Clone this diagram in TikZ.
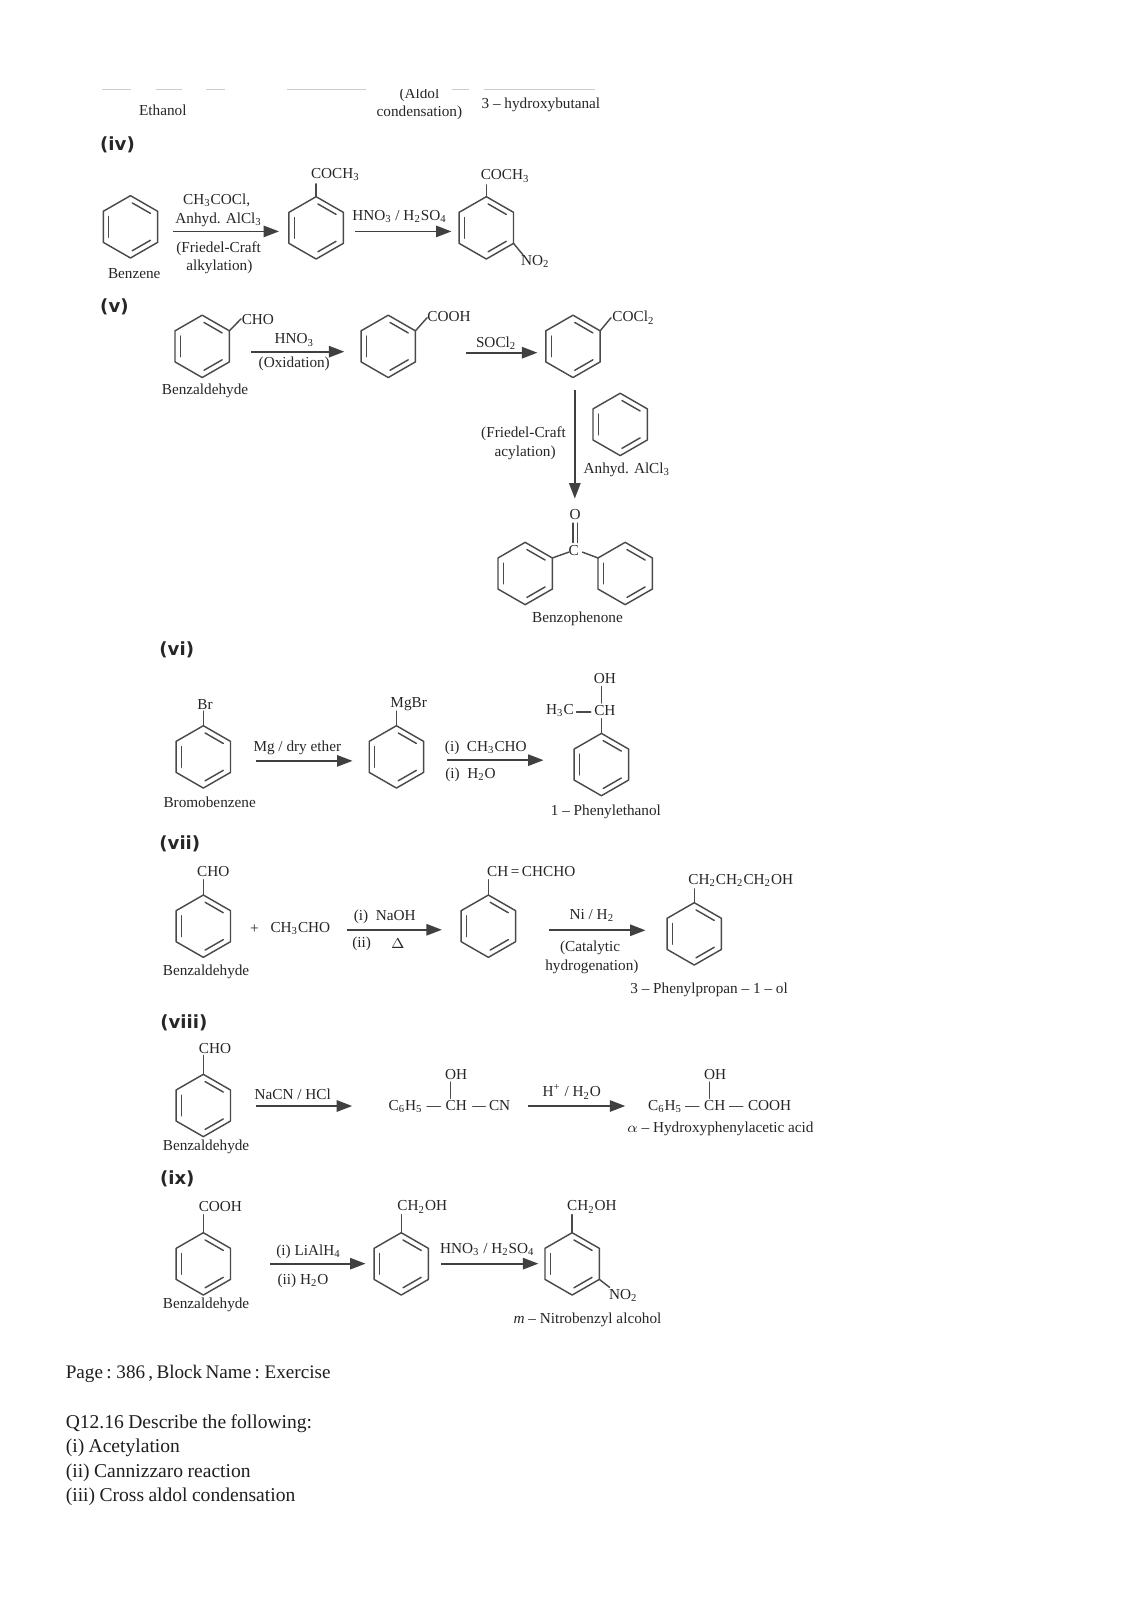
\documentclass[tikz,border=0pt]{standalone}
\usepackage{fontspec}
\setmainfont{Liberation Serif}
\newfontfamily\lblfont{DejaVu Sans}
\newfontfamily\bodyfont[WordSpace=0.9]{Liberation Serif}
\usetikzlibrary{calc,arrows.meta}
\definecolor{ink}{HTML}{262626}
\definecolor{bondc}{HTML}{4A4A4A}
\newcommand\lo[1]{\textsubscript{#1}}
\tikzset{
  chem/.style={inner sep=0pt,font=\fontsize{7.4}{9}\selectfont,text=ink,anchor=center},
  partlbl/.style={inner sep=0pt,font=\lblfont\bfseries\fontsize{8.8}{10}\selectfont,text=black!85,anchor=center},
  bodytxt/.style={inner sep=0pt,font=\bodyfont\fontsize{9.5}{11}\selectfont,text=black!88,anchor=west},
  bond/.style={draw=bondc,line width=0.7pt,line cap=round},
  rxnarrow/.style={draw=black!75,line width=0.85pt,-{Triangle[length=7.5pt,width=5.5pt]}},
  faint/.style={draw=black!20,line width=0.5pt}
}
% ring: name, x, y
\newcommand\ringat[3]{%
  \coordinate (#1-c) at (#2,#3);
  \coordinate (#1-1) at (#2,#3-30.5);
  \coordinate (#1-2) at (#2+26.6,#3-15.2);
  \coordinate (#1-3) at (#2+26.6,#3+15.2);
  \coordinate (#1-4) at (#2,#3+30.5);
  \coordinate (#1-5) at (#2-26.6,#3+15.2);
  \coordinate (#1-6) at (#2-26.6,#3-15.2);
  \draw[bond,line join=round] (#1-1)--(#1-2)--(#1-3)--(#1-4)--(#1-5)--(#1-6)--cycle;
  \draw[bond,shorten >=1pt,shorten <=1pt] ($(#1-c)!0.8!(#1-1)$)--($(#1-c)!0.8!(#1-2)$);
  \draw[bond,shorten >=1pt,shorten <=1pt] ($(#1-c)!0.8!(#1-3)$)--($(#1-c)!0.8!(#1-4)$);
  \draw[bond,shorten >=1pt,shorten <=1pt] ($(#1-c)!0.8!(#1-5)$)--($(#1-c)!0.8!(#1-6)$);
}
% text: name, x, y, text
\newcommand\tx[4]{\node[chem] (#1) at (#2,#3) {#4};}
% reaction arrow: name, x1, x2, y
\newcommand\rxn[4]{\coordinate (#1-a) at (#2,#4); \coordinate (#1-b) at (#3,#4); \draw[rxnarrow] (#1-a)--(#1-b);}
% bond from a named point to a new coordinate
\newcommand\bto[4]{\coordinate (#2) at (#3,#4); \draw[bond] (#1)--(#2);}
% free bond: name, x1, y1, x2, y2
\newcommand\fb[5]{\coordinate (#1-a) at (#2,#3); \coordinate (#1-b) at (#4,#5); \draw[bond] (#1-a)--(#1-b);}
\begin{document}
\begin{tikzpicture}[x=0.496pt,y=-0.496pt]
\useasboundingbox (0,0) rectangle (1109,1566);
\fill[white] (0,0) rectangle (1109,1566);
% top fragment
\foreach \a/\b in {100/128,153/178,202/220,281/358,442/459,474/582}{\draw[faint] (\a,88)--(\b,88);}
\begin{scope}
\clip (350,88) rectangle (480,125);
\tx{aldol}{410.5}{93}{(Aldol}
\end{scope}
\tx{ethanol}{159.4}{107.7}{Ethanol}
\tx{conden}{410.5}{110.9}{condensation)}
\tx{hbut}{529.4}{102.8}{3 -- hydroxybutanal}
% (iv)
\node[partlbl] (liv) at (115,142) {(iv)};
\ringat{a}{127.7}{222}
\ringat{b}{309.4}{223}
\ringat{c}{476}{223}
\tx{bA}{131.4}{268.2}{Benzene}
\tx{acl}{212}{196.5}{CH\lo{3}COCl,}
\tx{anh}{214}{215.5}{Anhyd. AlCl\lo{3}}
\tx{fc}{214}{243}{(Friedel-Craft}
\tx{alk}{214.7}{261}{alkylation)}
\rxn{r1}{169.2}{273.1}{226.5}
\tx{cob}{328.3}{170.7}{COCH\lo{3}}
\bto{b-1}{bt}{309.4}{180}
\tx{nit1}{391}{211.5}{HNO\lo{3} / H\lo{2}SO\lo{4}}
\rxn{r2}{347.5}{441.9}{226.5}
\tx{coc}{494.4}{172.3}{COCH\lo{3}}
\bto{c-1}{ct}{476}{181}
\bto{c-3}{cn}{512}{249.6}
\tx{no1}{524}{256}{NO\lo{2}}
% (v)
\node[partlbl] (lv) at (112,300) {(v)};
\ringat{d}{197.9}{339}
\ringat{e}{380}{339}
\ringat{f}{560.8}{339}
\bto{d-2}{dt}{236}{312}
\tx{cho1}{252.4}{312.6}{CHO}
\tx{bz1}{200.7}{382.5}{Benzaldehyde}
\tx{hno}{288}{332.8}{HNO\lo{3}}
\tx{oxi}{288}{355.7}{(Oxidation)}
\rxn{r3}{246.1}{337}{344.2}
\bto{e-2}{et}{418}{311}
\tx{cooh1}{439.5}{310}{COOH}
\tx{soc}{485.6}{335.5}{SOCl\lo{2}}
\rxn{r4}{456}{526}{345.2}
\bto{f-2}{ft}{598}{311}
\tx{cocl}{620}{311}{COCl\lo{2}}
\coordinate (va) at (562.6,381.9); \coordinate (vb) at (562.6,488);
\draw[rxnarrow] (va)--(vb);
\tx{fc2}{512.4}{425}{(Friedel-Craft}
\tx{acy}{514}{443}{acylation)}
\ringat{g}{607}{415.4}
\tx{anh2}{613.5}{459.5}{Anhyd. AlCl\lo{3}}
\tx{ox}{563}{504}{O}
\tx{cc}{561.5}{538.5}{C}
\fb{o1}{561}{512}{561}{531}
\fb{o2}{565}{512}{565}{531}
\ringat{h}{514}{561.3}
\ringat{i}{611.9}{561.3}
\bto{h-2}{hc}{556.7}{540.4}
\bto{i-6}{ic}{570.1}{540.4}
\tx{bzp}{565.2}{605.4}{Benzophenone}
% (vi)
\node[partlbl] (lvi) at (173,636.4) {(vi)};
\ringat{j}{199}{740.8}
\bto{j-1}{jt}{199}{696}
\tx{br}{200.7}{689.2}{Br}
\tx{bbz}{205.2}{785.5}{Bromobenzene}
\tx{mg}{291}{731.6}{Mg / dry ether}
\rxn{r5}{250.7}{345}{744.7}
\ringat{k}{388}{740.8}
\bto{k-1}{kt}{388}{696}
\tx{mgbr}{400}{689.2}{MgBr}
\tx{ci}{475.5}{731.6}{(i)\ \ CH\lo{3}CHO}
\tx{cii}{460.5}{758}{(i)\ \ H\lo{2}O}
\rxn{r6}{437.7}{532}{744}
\ringat{l}{588.6}{748.3}
\tx{ch1}{592}{695.8}{CH}
\tx{h3c}{548}{695.8}{H\lo{3}C}
\tx{oh1}{592}{664}{OH}
\bto{l-1}{lt}{588.6}{703.4}
\fb{la}{564.3}{697}{578.2}{697}
\fb{lb}{588.6}{672}{588.6}{688}
\tx{phe}{593}{794.6}{1 -- Phenylethanol}
% (vii)
\node[partlbl] (lvii) at (176,825.6) {(vii)};
\ringat{m}{199}{906.5}
\tx{cho2}{208.8}{853.4}{CHO}
\bto{m-1}{mt}{199}{861}
\tx{bz2}{201.7}{951.3}{Benzaldehyde}
\tx{pl}{248.9}{909.1}{+}
\tx{acet}{294}{909.1}{CH\lo{3}CHO}
\tx{naoh}{376.6}{897.4}{(i)\ \ NaOH}
\tx{ii1}{353.9}{923.6}{(ii)}
\tx{del}{389.5}{923.6}{$\Delta$}
\rxn{r7}{339.2}{432.5}{910}
\ringat{n}{478}{906.5}
\tx{chch}{519.9}{853.4}{CH\,\raisebox{0.4pt}{=}\,CHCHO}
\bto{n-1}{nt}{478}{861}
\tx{ni}{579.3}{896}{Ni / H\lo{2}}
\tx{cat}{577.6}{927.4}{(Catalytic}
\tx{hyd}{579.3}{946.3}{hydrogenation)}
\rxn{r8}{537.4}{631.8}{910.5}
\ringat{o}{679.5}{914}
\tx{ppo}{725}{862}{CH\lo{2}CH\lo{2}CH\lo{2}OH}
\bto{o-1}{ot}{679.5}{870}
\tx{pp}{694}{969}{3 -- Phenylpropan -- 1 -- ol}
% (viii)
\node[partlbl] (lviii) at (180,1001) {(viii)};
\ringat{p}{199}{1082}
\tx{cho3}{210.5}{1026}{CHO}
\bto{p-1}{pt}{199}{1033}
\tx{bz3}{201.7}{1122.6}{Benzaldehyde}
\tx{nacn}{286.5}{1071}{NaCN / HCl}
\rxn{r9}{250.7}{344.7}{1082.5}
\tx{c6a}{397}{1083}{C\lo{6}H\lo{5}}
\tx{cha}{446.5}{1082.5}{CH}
\tx{cna}{489}{1082.5}{CN}
\tx{oha}{446.5}{1051.8}{OH}
\fb{q1}{418}{1083}{431}{1083}
\fb{q2}{462.7}{1083}{475}{1083}
\fb{q3}{440.8}{1059}{440.8}{1075}
\tx{hp}{559.7}{1068.7}{H\textsuperscript{+} / H\lo{2}O}
\rxn{r10}{517}{612}{1082.5}
\tx{c6b}{651}{1083}{C\lo{6}H\lo{5}}
\tx{chb}{699.5}{1082.5}{CH}
\tx{coohb}{753.3}{1082.5}{COOH}
\tx{ohb}{700}{1051.8}{OH}
\fb{s1}{671}{1083}{684}{1083}
\fb{s2}{714}{1083}{727}{1083}
\fb{s3}{694.3}{1059}{694.3}{1075}
\tx{hpa}{705}{1104.6}{\textit{$\alpha$} -- Hydroxyphenylacetic acid}
% (ix)
\node[partlbl] (lix) at (173.5,1154) {(ix)};
\ringat{t}{199}{1237}
\tx{cooh3}{215.7}{1180.7}{COOH}
\bto{t-1}{tt}{199}{1188.8}
\tx{bz4}{201.7}{1277.6}{Benzaldehyde}
\tx{lia}{302}{1225.4}{(i) LiAlH\lo{4}}
\tx{wat}{296.6}{1253.7}{(ii) H\lo{2}O}
\rxn{r11}{263.8}{357.7}{1236.8}
\ringat{u}{392.7}{1237}
\tx{cho4}{413.3}{1181.3}{CH\lo{2}OH}
\bto{u-1}{ut}{392.7}{1188.8}
\tx{nit2}{477}{1223}{HNO\lo{3} / H\lo{2}SO\lo{4}}
\rxn{r12}{432}{526.9}{1236.8}
\ringat{v}{560}{1237}
\tx{cho5}{579.3}{1181.3}{CH\lo{2}OH}
\bto{v-1}{vt}{560}{1188.8}
\bto{v-3}{vn}{596.7}{1260}
\tx{no2}{610}{1267.8}{NO\lo{2}}
\tx{mnb}{575}{1292}{\textit{m} -- Nitrobenzyl alcohol}
% body text
\node[bodytxt] (pg) at (64,1345) {\fontsize{9.3}{11}\selectfont\spaceskip=0.17em Page : 386 , Block Name : Exercise};
\node[bodytxt] (qq) at (64,1393) {Q12.16 Describe the following:};
\node[bodytxt] (q1t) at (64,1417) {(i) Acetylation};
\node[bodytxt] (q2t) at (64,1441) {(ii) Cannizzaro reaction};
\node[bodytxt] (q3t) at (64,1465) {(iii) Cross aldol condensation};
\end{tikzpicture}
\end{document}
